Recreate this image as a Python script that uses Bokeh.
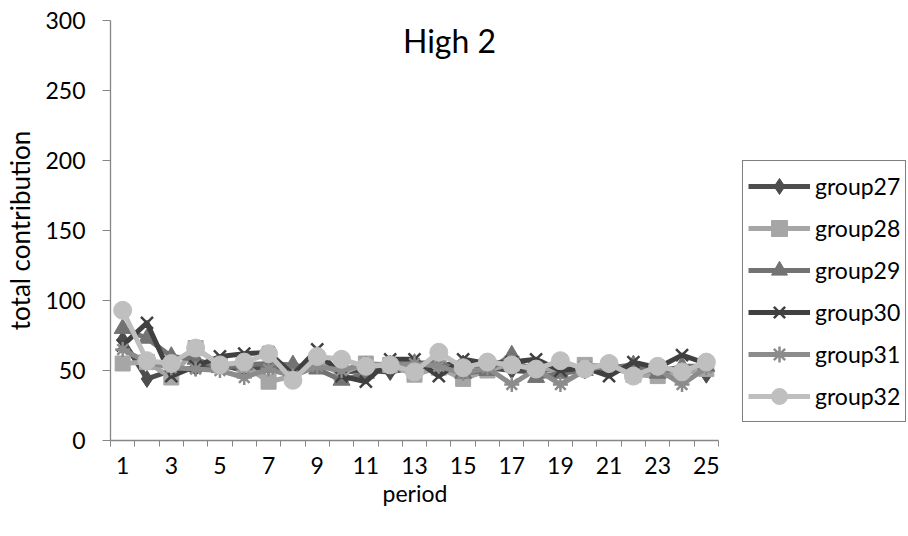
from bokeh.plotting import figure
from bokeh.models import Range1d, FixedTicker, Label, Legend, Title
from bokeh.embed import file_html
from bokeh.resources import INLINE

periods = list(range(1, 26))
group27 = [72, 44, 50, 52, 54, 50, 53, 48, 57, 49, 50, 49, 52, 54, 55, 52, 50, 49, 52, 50, 51, 53, 50, 52, 47]
group28 = [55, 56, 45, 66, 54, 54, 42, 46, 55, 48, 55, 54, 47, 52, 44, 50, 55, 52, 50, 54, 53, 47, 46, 48, 51]
group29 = [80, 73, 60, 58, 52, 54, 55, 54, 51, 43, 48, 54, 55, 56, 48, 50, 61, 45, 48, 50, 52, 54, 48, 53, 53]
group30 = [68, 84, 46, 53, 60, 62, 63, 47, 65, 46, 42, 58, 58, 46, 58, 55, 56, 58, 50, 52, 46, 56, 52, 61, 55]
group31 = [65, 56, 52, 51, 50, 45, 51, 46, 53, 50, 55, 53, 55, 53, 48, 52, 40, 51, 40, 50, 54, 47, 51, 40, 52]
group32 = [93, 57, 55, 66, 54, 56, 62, 43, 60, 58, 53, 54, 49, 63, 52, 56, 54, 51, 57, 51, 55, 46, 53, 49, 56]

series_names = ["group27", "group28", "group29", "group30", "group31", "group32"]
series_values = [group27, group28, group29, group30, group31, group32]
colors = ["#4d4d4d", "#a6a6a6", "#737373", "#404040", "#8c8c8c", "#bfbfbf"]
markers = ["diamond", "square", "triangle", "x", "asterisk", "circle"]
msizes = [17, 15, 17, 17, 15, 18]

y_ticks = [0, 50, 100, 150, 200, 250, 300]
x_tick_labels = [1, 3, 5, 7, 9, 11, 13, 15, 17, 19, 21, 23, 25]

FONT = "Lato"

# the frame spans to the right edge so the legend can sit inside it;
# x range chosen so that periods 0.5..25.5 occupy x 110..718 px
x_end = 0.5 + 798 / (608 / 25)

p = figure(width=908, height=536, output_backend="svg", toolbar_location=None,
           x_range=Range1d(0.5, x_end), y_range=Range1d(0, 300),
           min_border_left=110, min_border_right=0, min_border_top=20, min_border_bottom=96)
p.outline_line_color = None
p.xgrid.visible = False
p.ygrid.visible = False
p.background_fill_color = "white"
p.border_fill_color = "white"

for ax in (p.xaxis[0], p.yaxis[0]):
    ax.axis_line_color = "#868686"
    ax.axis_line_width = 1.3
    ax.major_label_text_font = FONT
    ax.major_label_text_font_size = "23px"
    ax.major_label_text_color = "black"
    ax.axis_label_text_font = FONT
    ax.axis_label_text_font_size = "23px"
    ax.axis_label_text_font_style = "normal"
    ax.axis_label_text_color = "black"

p.xaxis.bounds = (0.5, 25.5)
p.xaxis.ticker = FixedTicker(ticks=x_tick_labels, minor_ticks=[i + 0.5 for i in range(0, 26)])
p.xaxis.major_tick_line_color = None
p.xaxis.minor_tick_line_color = "#868686"
p.xaxis.minor_tick_out = 6
p.xaxis.minor_tick_in = 0
p.xaxis.major_tick_out = 6
p.xaxis.major_label_standoff = 10

p.yaxis.ticker = FixedTicker(ticks=y_ticks)
p.yaxis.major_tick_line_color = "#868686"
p.yaxis.major_tick_out = 8
p.yaxis.major_tick_in = 0
p.yaxis.minor_tick_line_color = None
p.yaxis.major_label_standoff = 17
p.yaxis.axis_label = "total contribution"
p.yaxis.axis_label_text_font_size = "26px"
p.yaxis.axis_label_standoff = 6

# x axis title, centred under periods 1..25
xtitle = Title(text="period", align="left", offset=272, text_font=FONT,
               text_font_size="23px", text_font_style="normal", text_color="black",
               standoff=0)
p.add_layout(xtitle, "below")

items = []
for name, vals, col, mk, ms in zip(series_names, series_values, colors, markers, msizes):
    r1 = p.line(periods, vals, line_color=col, line_width=5, line_join="round")
    lw = 2.5 if mk in ("x", "asterisk") else 1
    r2 = p.scatter(periods, vals, marker=mk, size=ms, fill_color=col, line_color=col, line_width=lw)
    items.append((name, [r1, r2]))

legend = Legend(items=items, location=(632, 18))
legend.label_text_font = FONT
legend.label_text_font_size = "23px"
legend.label_text_color = "black"
legend.glyph_width = 62
legend.glyph_height = 40
legend.label_height = 40
legend.spacing = 2
legend.padding = 5
legend.margin = 0
legend.label_standoff = 5
legend.border_line_color = "black"
legend.border_line_width = 1.5
legend.background_fill_color = "white"
legend.background_fill_alpha = 1
p.add_layout(legend, "center")

title = Label(x=339, y=400, x_units="screen", y_units="screen", text="High 2",
              text_font=FONT, text_font_size="32px", text_align="center",
              text_baseline="middle", text_color="black")
p.add_layout(title)

open("out.html", "w").write(file_html(p, INLINE))
